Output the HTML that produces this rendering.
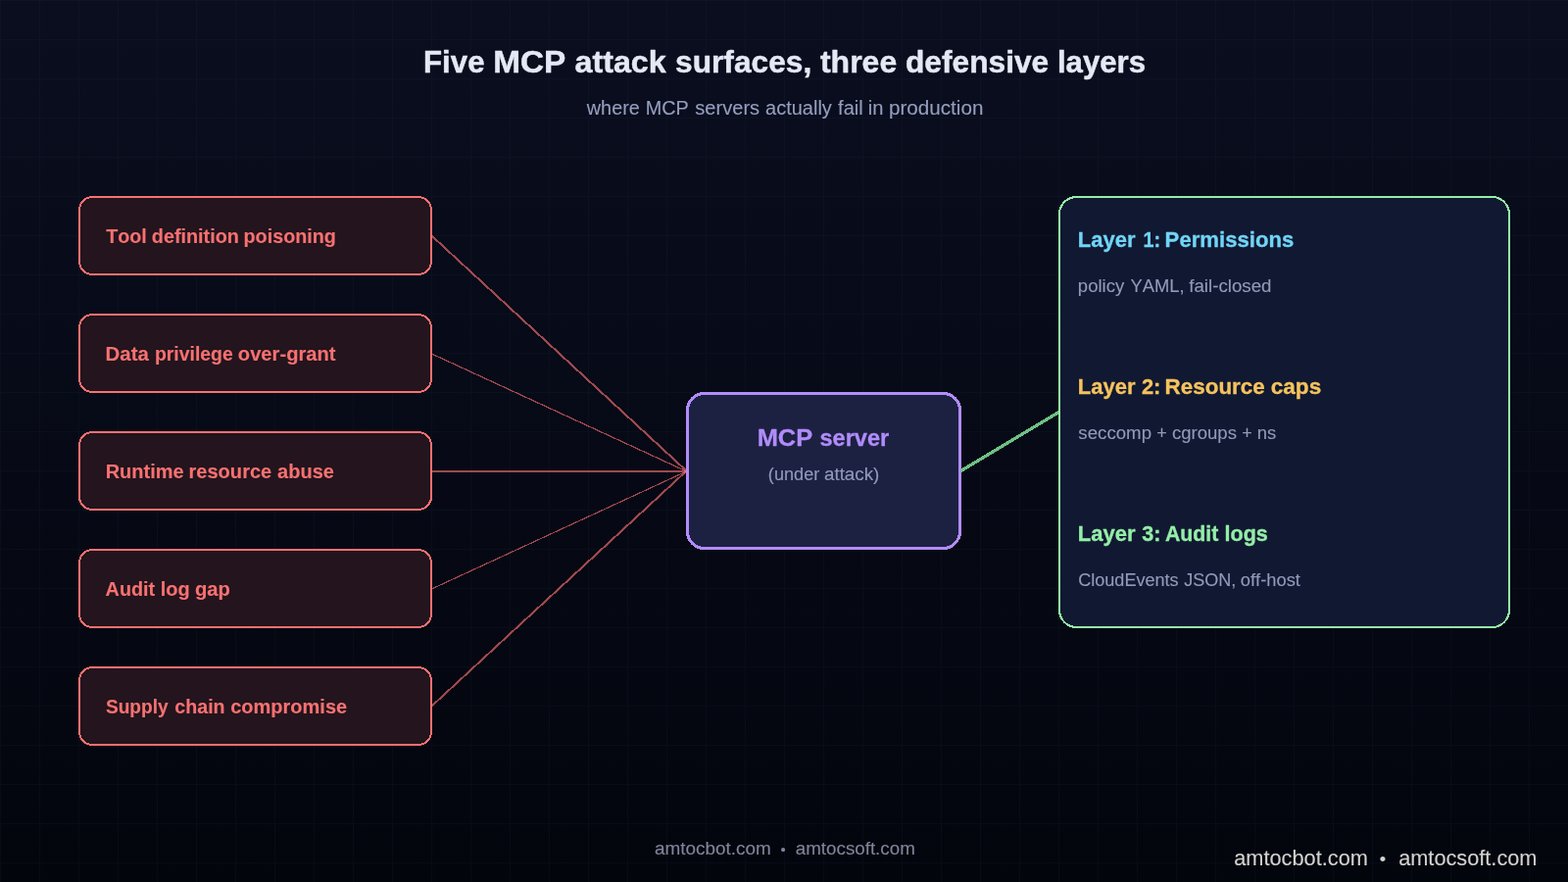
<!DOCTYPE html>
<html lang="en">
<head>
<meta charset="utf-8">
<title>Five MCP attack surfaces, three defensive layers</title>
<style>
  html, body { margin: 0; padding: 0; background: #03050d; }
  body { width: 1600px; height: 900px; overflow: hidden; }
  svg { display: block; will-change: transform; }
  text { font-family: "Liberation Sans", sans-serif; font-kerning: none; font-variant-ligatures: none; }
</style>
</head>
<body>
<svg width="1600" height="900" viewBox="0 0 1600 900">
  <defs>
    <linearGradient id="bg" x1="0" y1="0" x2="0" y2="1">
      <stop offset="0" stop-color="#0a0e1f"/>
      <stop offset="1" stop-color="#03050d"/>
    </linearGradient>
    <filter id="gray" x="0" y="0" width="1600" height="900" filterUnits="userSpaceOnUse" color-interpolation-filters="sRGB"><feOffset dx="0" dy="0"/></filter>
    <filter id="wmshadow" x="1240" y="850" width="360" height="50" filterUnits="userSpaceOnUse" color-interpolation-filters="sRGB"><feDropShadow dx="1" dy="1" stdDeviation="0" flood-color="#000" flood-opacity="1"/></filter>
    <pattern id="grid" width="40" height="40" patternUnits="userSpaceOnUse">
      <path d="M0 0H40V1H1V40H0Z" fill="rgba(140,195,255,0.032)"/>
    </pattern>
  </defs>
  <rect width="1600" height="900" fill="url(#bg)"/>
  <rect width="1600" height="900" fill="url(#grid)" shape-rendering="crispEdges"/>

  <g stroke="#f87171" stroke-opacity="0.62" stroke-width="2" fill="none" shape-rendering="crispEdges">
    <line x1="441" y1="241" x2="701" y2="481"/>
    <line x1="440.5" y1="361" x2="700.5" y2="481" stroke-width="1.2"/>
    <line x1="440" y1="481" x2="701" y2="481"/>
    <line x1="440.5" y1="601" x2="700.5" y2="481" stroke-width="1.2"/>
    <line x1="440" y1="721" x2="700" y2="481"/>
  </g>

  <g fill="#23141d" stroke="#f87171" stroke-width="2" shape-rendering="crispEdges">
    <rect x="81" y="201" width="359" height="79" rx="13.25"/>
    <rect x="81" y="321" width="359" height="79" rx="13.25"/>
    <rect x="81" y="441" width="359" height="79" rx="13.25"/>
    <rect x="81" y="561" width="359" height="79" rx="13.25"/>
    <rect x="81" y="681" width="359" height="79" rx="13.25"/>
  </g>
  <rect x="701.5" y="401.5" width="278" height="158" rx="17.25" fill="#1c2142" stroke="#b18cfa" stroke-width="3" shape-rendering="crispEdges"/>
  <line x1="980.5" y1="480.5" x2="1080.5" y2="420.5" stroke="#6fbf85" stroke-width="3.2" shape-rendering="crispEdges"/>
  <rect x="1081" y="201" width="459" height="439" rx="17.5" fill="#111831" stroke="#94eea8" stroke-width="2" shape-rendering="crispEdges"/>

  <g id="labels" filter="url(#gray)">
    <text y="74" font-size="32" font-weight="700" stroke="#e4e9f5" stroke-width="0.45" stroke-linejoin="round" fill="#e4e9f5"><tspan x="432.05" textLength="62.46" lengthAdjust="spacingAndGlyphs">Five</tspan> <tspan x="503.21" textLength="74.18" lengthAdjust="spacingAndGlyphs">MCP</tspan> <tspan x="586.44" textLength="93.3" lengthAdjust="spacingAndGlyphs">attack</tspan> <tspan x="689.06" textLength="139.2" lengthAdjust="spacingAndGlyphs">surfaces,</tspan> <tspan x="836.95">three</tspan> <tspan x="923.91" textLength="146.36" lengthAdjust="spacingAndGlyphs">defensive</tspan> <tspan x="1078.95" textLength="90.15" lengthAdjust="spacingAndGlyphs">layers</tspan></text>
    <text y="117" font-size="20" stroke="#959ebf" stroke-width="0.12" stroke-linejoin="round" fill="#959ebf"><tspan x="598.8" textLength="54.03" lengthAdjust="spacingAndGlyphs">where</tspan> <tspan x="658.81" textLength="44.03" lengthAdjust="spacingAndGlyphs">MCP</tspan> <tspan x="709.2" textLength="65.98" lengthAdjust="spacingAndGlyphs">servers</tspan> <tspan x="781.05">actually</tspan> <tspan x="855.05" textLength="25.68" lengthAdjust="spacingAndGlyphs">fail</tspan> <tspan x="885.74" textLength="15.7" lengthAdjust="spacingAndGlyphs">in</tspan> <tspan x="906.91" textLength="96.54" lengthAdjust="spacingAndGlyphs">production</tspan></text>
    <text y="248" font-size="20" font-weight="700" stroke="#f87171" stroke-width="0.12" stroke-linejoin="round" fill="#f87171"><tspan x="108.15" textLength="41.7" lengthAdjust="spacingAndGlyphs">Tool</tspan> <tspan x="154.81" textLength="89.12" lengthAdjust="spacingAndGlyphs">definition</tspan> <tspan x="248.57" textLength="94.31" lengthAdjust="spacingAndGlyphs">poisoning</tspan></text>
    <text y="368" font-size="20" font-weight="700" stroke="#f87171" stroke-width="0.12" stroke-linejoin="round" fill="#f87171"><tspan x="107.62" textLength="44.23" lengthAdjust="spacingAndGlyphs">Data</tspan> <tspan x="157.89" textLength="79.92" lengthAdjust="spacingAndGlyphs">privilege</tspan> <tspan x="242.84" textLength="99.71" lengthAdjust="spacingAndGlyphs">over-grant</tspan></text>
    <text y="488" font-size="20" font-weight="700" stroke="#f87171" stroke-width="0.12" stroke-linejoin="round" fill="#f87171"><tspan x="107.65">Runtime</tspan> <tspan x="192.44" textLength="84.86" lengthAdjust="spacingAndGlyphs">resource</tspan> <tspan x="283.1">abuse</tspan></text>
    <text y="608" font-size="20" font-weight="700" stroke="#f87171" stroke-width="0.12" stroke-linejoin="round" fill="#f87171"><tspan x="107.61" textLength="50.49" lengthAdjust="spacingAndGlyphs">Audit</tspan> <tspan x="163.75">log</tspan> <tspan x="198.94" textLength="35.98" lengthAdjust="spacingAndGlyphs">gap</tspan></text>
    <text y="728" font-size="20" font-weight="700" stroke="#f87171" stroke-width="0.12" stroke-linejoin="round" fill="#f87171"><tspan x="107.92" textLength="63.74" lengthAdjust="spacingAndGlyphs">Supply</tspan> <tspan x="178.36" textLength="51.26" lengthAdjust="spacingAndGlyphs">chain</tspan> <tspan x="235.25">compromise</tspan></text>
    <text y="455" font-size="24" font-weight="700" stroke="#b18cfa" stroke-width="0.3" stroke-linejoin="round" fill="#b18cfa"><tspan x="772.66" textLength="56.57" lengthAdjust="spacingAndGlyphs">MCP</tspan> <tspan x="836.46" textLength="70.71" lengthAdjust="spacingAndGlyphs">server</tspan></text>
    <text y="490" font-size="18" stroke="#919aba" stroke-width="0.12" stroke-linejoin="round" fill="#919aba"><tspan x="783.89" textLength="52.39" lengthAdjust="spacingAndGlyphs">(under</tspan> <tspan x="841.02" textLength="56.31" lengthAdjust="spacingAndGlyphs">attack)</tspan></text>
    <text y="252" font-size="22" font-weight="700" stroke="#70d5f6" stroke-width="0.3" stroke-linejoin="round" fill="#70d5f6"><tspan x="1099.75">Layer</tspan> <tspan x="1166.55" textLength="17.61" lengthAdjust="spacingAndGlyphs">1:</tspan> <tspan x="1188.64" textLength="131.61" lengthAdjust="spacingAndGlyphs">Permissions</tspan></text>
    <text y="298" font-size="18" stroke="#919aba" stroke-width="0.12" stroke-linejoin="round" fill="#919aba"><tspan x="1099.87" textLength="47.36" lengthAdjust="spacingAndGlyphs">policy</tspan> <tspan x="1153.44" textLength="55.12" lengthAdjust="spacingAndGlyphs">YAML,</tspan> <tspan x="1213.24" textLength="84.25" lengthAdjust="spacingAndGlyphs">fail-closed</tspan></text>
    <text y="402" font-size="22" font-weight="700" stroke="#f5c35e" stroke-width="0.3" stroke-linejoin="round" fill="#f5c35e"><tspan x="1099.75">Layer</tspan> <tspan x="1164.9" textLength="19.45" lengthAdjust="spacingAndGlyphs">2:</tspan> <tspan x="1188.63" textLength="102.11" lengthAdjust="spacingAndGlyphs">Resource</tspan> <tspan x="1296.73" textLength="51.55" lengthAdjust="spacingAndGlyphs">caps</tspan></text>
    <text y="448" font-size="18" stroke="#919aba" stroke-width="0.12" stroke-linejoin="round" fill="#919aba"><tspan x="1100.38" textLength="74.63" lengthAdjust="spacingAndGlyphs">seccomp</tspan> <tspan x="1180.2">+</tspan> <tspan x="1195.93" textLength="66.04" lengthAdjust="spacingAndGlyphs">cgroups</tspan> <tspan x="1267.15">+</tspan> <tspan x="1282.68" textLength="19.45" lengthAdjust="spacingAndGlyphs">ns</tspan></text>
    <text y="552" font-size="22" font-weight="700" stroke="#94eea8" stroke-width="0.3" stroke-linejoin="round" fill="#94eea8"><tspan x="1099.75">Layer</tspan> <tspan x="1165.16" textLength="19.17" lengthAdjust="spacingAndGlyphs">3:</tspan> <tspan x="1188.92" textLength="54.38" lengthAdjust="spacingAndGlyphs">Audit</tspan> <tspan x="1249.58" textLength="44.24" lengthAdjust="spacingAndGlyphs">logs</tspan></text>
    <text y="598" font-size="18" stroke="#919aba" stroke-width="0.12" stroke-linejoin="round" fill="#919aba"><tspan x="1100.15" textLength="102.52" lengthAdjust="spacingAndGlyphs">CloudEvents</tspan> <tspan x="1208.35">JSON,</tspan> <tspan x="1265.84" textLength="61.1" lengthAdjust="spacingAndGlyphs">off-host</tspan></text>
    <text y="872" font-size="18" stroke="#81849a" stroke-width="0.12" stroke-linejoin="round" fill="#81849a"><tspan x="667.91" textLength="118.89" lengthAdjust="spacingAndGlyphs">amtocbot.com</tspan> <tspan x="796.62" font-size="14.8">•</tspan> <tspan x="811.82" textLength="121.97" lengthAdjust="spacingAndGlyphs">amtocsoft.com</tspan></text>
    <text y="883" font-size="22" stroke="#d2d2d2" stroke-width="0.12" stroke-linejoin="round" fill="#d2d2d2" filter="url(#wmshadow)"><tspan x="1259.26" textLength="136.65" lengthAdjust="spacingAndGlyphs">amtocbot.com</tspan> <tspan x="1407.73" font-size="18.3">•</tspan> <tspan x="1427.16" textLength="141.32" lengthAdjust="spacingAndGlyphs">amtocsoft.com</tspan></text>
  </g>
</svg>
</body>
</html>
